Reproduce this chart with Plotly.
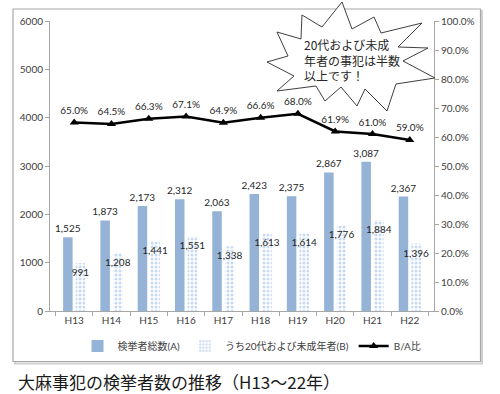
import plotly.graph_objects as go

categories = ["H13", "H14", "H15", "H16", "H17", "H18", "H19", "H20", "H21", "H22"]
total_A = [1525, 1873, 2173, 2312, 2063, 2423, 2375, 2867, 3087, 2367]
young_B = [991, 1208, 1441, 1551, 1338, 1613, 1614, 1776, 1884, 1396]
ratio_BA = [0.650, 0.645, 0.663, 0.671, 0.649, 0.666, 0.680, 0.619, 0.610, 0.590]

name_A = "検挙者総数(A)"
name_B = "うち20代および未成年者(B)"
name_R = "B/A比"
title_text = "大麻事犯の検挙者数の推移（H13～22年）"
callout_text = "20代および未成<br>年者の事犯は半数<br>以上です！"

W, H = 500, 394
L, R, T, B = 50, 66, 21, 83
PW, PH = W - L - R, H - T - B


def px(x):
    return (x - L) / PW


def py(y):
    return (H - B - y) / PH


NUMFONT = "Lato, 'Noto Sans CJK JP', sans-serif"
JPFONT = "'Noto Sans CJK JP', sans-serif"
TXT = "#404040"

fig = go.Figure()
fig.add_trace(go.Bar(
    x=categories, y=total_A, name=name_A,
    marker=dict(color="#95B3D7", line=dict(width=0)),
    text=[f"{v:,}" for v in total_A], textposition="outside",
    textangle=0, constraintext="none",
    outsidetextfont=dict(size=10, color="#262626", family=NUMFONT),
    cliponaxis=False,
))
fig.add_trace(go.Bar(
    x=categories, y=young_B, name=name_B,
    marker=dict(color="white", line=dict(width=0),
                pattern=dict(shape=".", fgcolor="#8DB3E2", bgcolor="white",
                             size=4, solidity=0.45, fillmode="overlay")),
    text=[f"{v:,}" for v in young_B], textposition="inside",
    insidetextanchor="end", constraintext="none", textangle=0,
    insidetextfont=dict(size=10, color="#262626", family=NUMFONT),
    cliponaxis=False,
))
fig.add_trace(go.Scatter(
    x=categories, y=ratio_BA, name=name_R, yaxis="y2",
    mode="lines+markers+text",
    line=dict(color="black", width=2.5),
    marker=dict(symbol="triangle-up", size=8, color="black"),
    text=[f"{v*100:.1f}%" for v in ratio_BA], textposition="top center",
    textfont=dict(size=10, color="#262626", family=NUMFONT),
    cliponaxis=False,
))

# callout explosion shape (pixel vertices -> paper)
verts = [(342, 2), (352, 29), (374, 17), (381, 33), (422, 23), (398, 47),
         (428, 48), (403, 61), (435, 78), (396, 84), (387, 111), (365, 89),
         (357, 106), (341, 87), (325, 101), (316, 86), (277, 91), (294, 76),
         (267, 62), (288, 56), (277, 32), (301, 39), (302, 15), (322, 27)]
path = "M " + " L ".join(f"{px(x):.4f},{py(y):.4f}" for x, y in verts) + " Z"

shapes = [
    # outer frame shadow + frame
    dict(type="rect", xref="paper", yref="paper",
         x0=px(15), x1=px(482), y0=py(363.5), y1=py(11),
         line=dict(color="#D0D0D0", width=2), fillcolor="rgba(0,0,0,0)", layer="below"),
    dict(type="rect", xref="paper", yref="paper",
         x0=px(13), x1=px(480.5), y0=py(361.5), y1=py(9),
         line=dict(color="#A8A8A8", width=1.2), fillcolor="white", layer="below"),
    dict(type="path", xref="paper", yref="paper", path=path,
         line=dict(color="#404040", width=1), fillcolor="white", layer="above"),
]

annotations = [
    dict(xref="paper", yref="paper", x=px(302), y=py(60), xanchor="left", yanchor="middle",
         text=callout_text, showarrow=False, align="left",
         font=dict(size=12, color="#262626", family=JPFONT)),
    dict(xref="paper", yref="paper", x=px(16), y=py(381), xanchor="left", yanchor="middle",
         text=title_text, showarrow=False,
         font=dict(size=17, color="#1a1a1a", family=JPFONT)),
]

fig.update_layout(
    width=W, height=H,
    margin=dict(l=L, r=R, t=T, b=B, pad=0, autoexpand=False),
    paper_bgcolor="white", plot_bgcolor="rgba(0,0,0,0)",
    barmode="group", bargap=0.32, bargroupgap=0.25,
    font=dict(family=NUMFONT, size=10, color=TXT),
    showlegend=True,
    legend=dict(orientation="h", xref="container", x=(252) / W, xanchor="center",
                yref="container", y=(H - 346) / H, yanchor="middle",
                font=dict(size=10, color=TXT, family=NUMFONT),
                bgcolor="rgba(0,0,0,0)", itemwidth=30, tracegroupgap=0),
    xaxis=dict(showline=True, linecolor="#A6A6A6", linewidth=1, ticks="outside",
               tickson="boundaries", ticklen=4, tickcolor="#A6A6A6",
               showgrid=False, tickfont=dict(size=10, color=TXT), automargin=False),
    yaxis=dict(range=[0, 6000], tickvals=[0, 1000, 2000, 3000, 4000, 5000, 6000],
               tickformat="d", showline=True, linecolor="#A6A6A6", ticks="outside",
               ticklen=4, tickcolor="#A6A6A6", showgrid=False, zeroline=False,
               tickfont=dict(size=10, color=TXT), automargin=False),
    yaxis2=dict(range=[0, 1], overlaying="y", side="right", dtick=0.1, tick0=0,
                tickformat=".1%", showline=True, linecolor="#A6A6A6", ticks="outside",
                ticklen=4, tickcolor="#A6A6A6", showgrid=False, zeroline=False,
                tickfont=dict(size=10, color=TXT), automargin=False),
    shapes=shapes, annotations=annotations,
)

fig.write_html("out.html", config={"displayModeBar": False},
               post_script="document.body.style.margin='0';document.body.style.padding='0';document.body.style.overflow='hidden';")
